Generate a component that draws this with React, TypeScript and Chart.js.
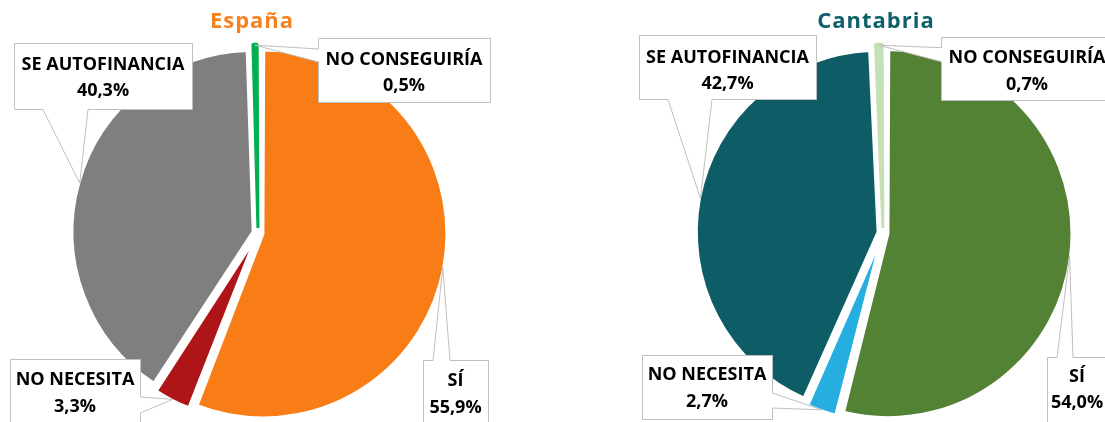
import React, { useEffect, useRef } from "react";
import { Chart, registerables } from "chart.js";

Chart.register(...registerables);

// ---------- DATA ----------
const categories = ["SÍ", "NO NECESITA", "SE AUTOFINANCIA", "NO CONSEGUIRÍA"];
const espanaValues = [55.9, 3.3, 40.3, 0.5];
const cantabriaValues = [54.0, 2.7, 42.7, 0.7];
const chartTitles = ["España", "Cantabria"];

// ---------- STYLE / LAYOUT ----------
const espanaColors = ["#F97D17", "#AE1519", "#7F7F7F", "#00B050"];
const cantabriaColors = ["#548235", "#27AEE1", "#0D5C66", "#C5E0B4"];
const titleColors = ["#F5821F", "#0E6168"];

const PIE_RADIUS = 179;
const SLICE_OFFSET = 20;
const SLICE_BORDER = 3;
const LABEL_FONT = '700 18px "Open Sans", Lato, sans-serif';
const TITLE_FONT = '700 22px "Open Sans", Lato, sans-serif';
const LINE_GAP = 13.25;

type Side = "top" | "bottom" | "left" | "right";
type Callout = { box: [number, number, number, number]; side: Side; base: [number, number]; cy: number };

const espanaCallouts: Callout[] = [
  { box: [423, 360, 65, 66], side: "top", base: [433, 450], cy: 393 },
  { box: [10, 359, 130, 66], side: "right", base: [397, 413], cy: 392 },
  { box: [14, 43, 178, 66], side: "bottom", base: [43, 88], cy: 76.4 },
  { box: [318, 38, 172, 64], side: "left", base: [49, 62], cy: 71.75 },
];
const cantabriaCallouts: Callout[] = [
  { box: [495, 357, 60, 66], side: "top", base: [505, 521], cy: 388.8 },
  { box: [90, 355, 130, 64], side: "right", base: [393, 408], cy: 387.25 },
  { box: [87, 35, 177, 64], side: "bottom", base: [116, 160], cy: 69.8 },
  { box: [389, 37, 172, 63], side: "left", base: [47.7, 61.7], cy: 70.25 },
];

const fmt = (v: number) => v.toFixed(1).replace(".", ",") + "%";

// tiny slices keep their own colour as border so they stay visible
const borderColorsFor = (values: number[], colors: string[]) =>
  values.map((v, i) => (v < 1 ? colors[i] : "#FFFFFF"));

function calloutPlugin(title: string, titleColor: string, titleX: number, callouts: Callout[]) {
  return {
    id: "callouts",
    afterDatasetsDraw(chart: any) {
      const ctx: CanvasRenderingContext2D = chart.ctx;
      const meta = chart.getDatasetMeta(0);
      const values: number[] = chart.data.datasets[0].data;
      const labels: string[] = chart.data.labels;
      ctx.save();
      // title
      ctx.font = TITLE_FONT;
      (ctx as any).letterSpacing = "1px";
      ctx.fillStyle = titleColor;
      ctx.textAlign = "center";
      ctx.textBaseline = "alphabetic";
      ctx.fillText(title, titleX, 28);
      (ctx as any).letterSpacing = "0px";

      callouts.forEach((c, i) => {
        const arc = meta.data[i];
        const p = arc.getProps(["x", "y", "startAngle", "endAngle", "outerRadius", "circumference"], true);
        const off = (arc.options.offset || 0) / 4;
        const fix = 1 - Math.sin(Math.min(Math.PI, p.circumference || 0));
        const h = (p.startAngle + p.endAngle) / 2;
        const r = p.outerRadius + off + off * fix - 1;
        const tx = p.x + Math.cos(h) * r;
        const ty = p.y + Math.sin(h) * r;

        const [bx0, by0, bw, bh] = c.box;
        const x = Math.round(bx0) + 0.5;
        const y = Math.round(by0) + 0.5;
        const x2 = x + bw;
        const y2 = y + bh;
        const [b1, b2] = c.base;
        ctx.beginPath();
        if (c.side === "top") {
          ctx.moveTo(x, y);
          ctx.lineTo(b1, y);
          ctx.lineTo(tx, ty);
          ctx.lineTo(b2, y);
          ctx.lineTo(x2, y);
          ctx.lineTo(x2, y2);
          ctx.lineTo(x, y2);
        } else if (c.side === "bottom") {
          ctx.moveTo(x, y);
          ctx.lineTo(x2, y);
          ctx.lineTo(x2, y2);
          ctx.lineTo(b2, y2);
          ctx.lineTo(tx, ty);
          ctx.lineTo(b1, y2);
          ctx.lineTo(x, y2);
        } else if (c.side === "left") {
          ctx.moveTo(x, y);
          ctx.lineTo(x2, y);
          ctx.lineTo(x2, y2);
          ctx.lineTo(x, y2);
          ctx.lineTo(x, b2);
          ctx.lineTo(tx, ty);
          ctx.lineTo(x, b1);
        } else {
          ctx.moveTo(x, y);
          ctx.lineTo(x2, y);
          ctx.lineTo(x2, b1);
          ctx.lineTo(tx, ty);
          ctx.lineTo(x2, b2);
          ctx.lineTo(x2, y2);
          ctx.lineTo(x, y2);
        }
        ctx.closePath();
        ctx.fillStyle = "#FFFFFF";
        ctx.fill();
        ctx.strokeStyle = "#BFBFBF";
        ctx.lineWidth = 1;
        ctx.lineJoin = "miter";
        ctx.stroke();

        ctx.font = LABEL_FONT;
        ctx.fillStyle = "#000000";
        ctx.textAlign = "center";
        ctx.textBaseline = "alphabetic";
        const cx = bx0 + bw / 2;
        ctx.fillText(labels[i], cx, c.cy - LINE_GAP + 6.4);
        ctx.fillText(fmt(values[i]), cx, c.cy + LINE_GAP + 6.4);
      });
      ctx.restore();
    },
  };
}

type PieProps = {
  values: number[];
  colors: string[];
  title: string;
  titleColor: string;
  titleX: number;
  callouts: Callout[];
  left: number;
  width: number;
  padding: { left: number; right: number; top: number; bottom: number };
};

function PieChart(props: PieProps) {
  const ref = useRef<HTMLCanvasElement>(null);
  useEffect(() => {
    const chart = new Chart(ref.current!, {
      type: "pie",
      data: {
        labels: categories,
        datasets: [
          {
            data: props.values,
            backgroundColor: props.colors,
            borderColor: borderColorsFor(props.values, props.colors),
            borderWidth: SLICE_BORDER,
            offset: SLICE_OFFSET,
            hoverOffset: 0,
            radius: PIE_RADIUS,
            clip: false,
          } as any,
        ],
      },
      options: {
        responsive: false,
        animation: false,
        devicePixelRatio: 1,
        events: [],
        layout: { padding: props.padding },
        plugins: { legend: { display: false }, tooltip: { enabled: false }, title: { display: false } },
      } as any,
      plugins: [calloutPlugin(props.title, props.titleColor, props.titleX, props.callouts)],
    });
    return () => chart.destroy();
  }, []);
  return (
    <canvas
      ref={ref}
      width={props.width}
      height={422}
      style={{ position: "absolute", left: props.left, top: 0, width: props.width, height: 422 }}
    />
  );
}

export default function App() {
  return (
    <div
      style={{
        position: "absolute",
        left: 0,
        top: 0,
        width: 1105,
        height: 422,
        background: "#FFFFFF",
        overflow: "hidden",
      }}
    >
      <PieChart
        values={espanaValues}
        colors={espanaColors}
        title={chartTitles[0]}
        titleColor={titleColors[0]}
        titleX={252}
        callouts={espanaCallouts}
        left={0}
        width={552}
        padding={{ left: 0, right: 36, top: 44, bottom: 0 }}
      />
      <PieChart
        values={cantabriaValues}
        colors={cantabriaColors}
        title={chartTitles[1]}
        titleColor={titleColors[1]}
        titleX={324}
        callouts={cantabriaCallouts}
        left={552}
        width={553}
        padding={{ left: 109, right: 0, top: 44, bottom: 0 }}
      />
    </div>
  );
}
